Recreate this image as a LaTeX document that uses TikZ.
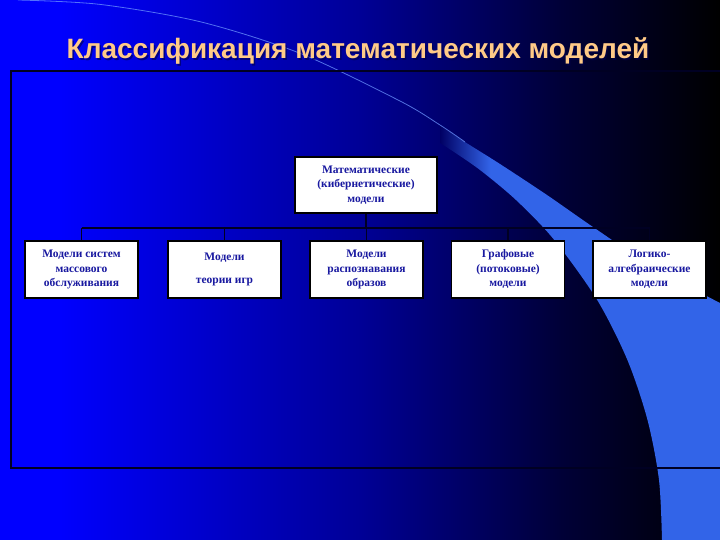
\documentclass[tikz,border=0pt]{standalone}
\usepackage{fontspec}
\setmainfont{Liberation Serif}
\newfontfamily\titlefont{Liberation Sans}
\definecolor{bgL}{RGB}{0,0,255}
\definecolor{bgM}{RGB}{0,0,150}
\definecolor{bgD}{RGB}{0,0,55}
\definecolor{bandc}{RGB}{50,100,232}
\definecolor{fadec}{RGB}{0,0,100}
\definecolor{titlec}{RGB}{255,202,135}
\definecolor{boxtext}{RGB}{25,25,160}
\definecolor{framec}{RGB}{0,0,35}
\definecolor{arcc}{RGB}{110,150,255}
\pgfdeclarehorizontalshading{bgshade}{100bp}{color(0bp)=(bgL); color(29bp)=(bgL); color(50bp)=(bgM); color(64bp)=(bgD); color(75bp)=(black); color(100bp)=(black)}
\pgfdeclarehorizontalshading{bandfade}{100bp}{color(0bp)=(fadec); color(25bp)=(fadec); color(34bp)=(bandc); color(100bp)=(bandc)}
\begin{document}
\begin{tikzpicture}[x=1pt,y=-1pt,
  box/.style={draw=black, line width=1.5pt, fill=white, text=boxtext,
    font=\bfseries\fontsize{11.5}{14.5}\selectfont, align=center,
    inner sep=0pt, minimum width=113pt, minimum height=57pt},
  topbox/.style={box, minimum width=142pt, minimum height=56pt},
  link/.style={draw=framec, line width=1.5pt}]
\useasboundingbox (0,0) rectangle (720,540);
\shade[shading=bgshade] (0,0) rectangle (720,540);
% light band
\shade[shading=bandfade] plot[smooth] coordinates {(440,125) (465,142) (500,164) (547,195) (593,227) (653,267) (720,303)}
  -- (720,540) -- (662,540)
  -- plot[smooth] coordinates {(662,540) (659,480) (647.5,420) (627.4,360) (597.2,300) (554.3,240) (516,200) (480,170) (451,150) (440,143)} -- cycle;
% thin arc
\draw[arcc, line width=0.8pt, opacity=0.75] plot[smooth] coordinates {(18,0) (100,4.4) (200,21.7) (300,53.3) (400,101) (440,125) (465,142)};
% title
\node[anchor=base, text=black!70!blue, opacity=0.6, font=\titlefont\bfseries\fontsize{28}{30}\selectfont] (titleshadow) at (359.5,60.5) {Классификация математических моделей};
\node[anchor=base, text=titlec, font=\titlefont\bfseries\fontsize{28}{30}\selectfont] (title) at (358,59) {Классификация математических моделей};
% frame
\draw[framec, line width=2pt] (11,71) rectangle (724,468);
% nodes
\node[topbox] (p) at (366,185) {Математические\\(кибернетические)\\модели};
\node[box] (c1) at (81.5,269.5) {Модели систем\\массового\\обслуживания};
\node[box] (c2) at (224.5,269.5) {Модели\\[8.5pt]теории игр};
\node[box] (c3) at (366.5,269.5) {Модели\\распознавания\\образов};
\node[box] (c4) at (508,269.5) {Графовые\\(потоковые)\\модели};
\node[box] (c5) at (649.5,269.5) {Логико-\\алгебраические\\модели};
% connectors
\coordinate (busL) at (81.5,228);
\coordinate (busR) at (649.5,228);
\draw[link] (busL) -- (busR);
\draw[link] (p.south) -- (p.south |- busL);
\foreach \c in {c1,c2,c3,c4,c5}{
  \draw[link] (\c.north) -- (\c.north |- busL);
}
\end{tikzpicture}
\end{document}
